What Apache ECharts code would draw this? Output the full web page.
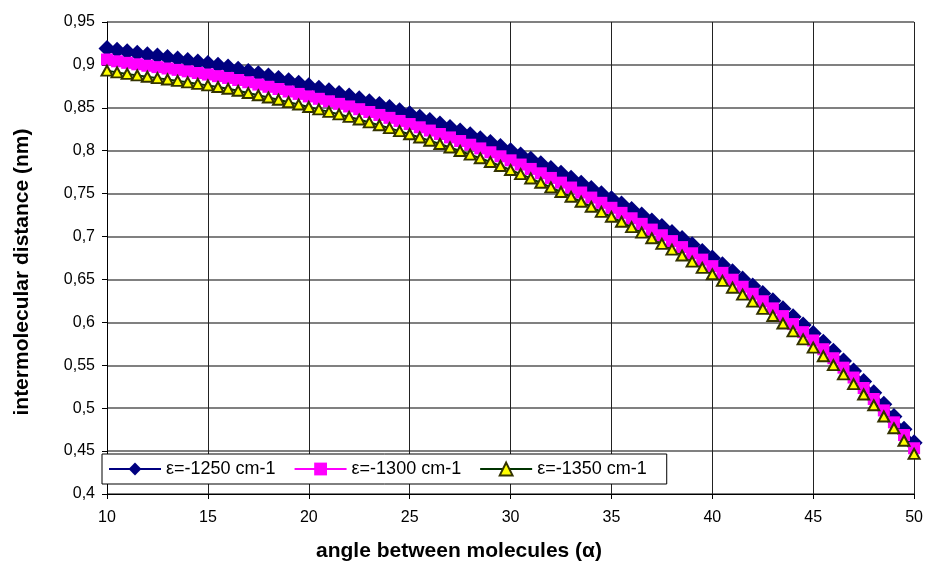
<!DOCTYPE html>
<html>
<head>
<meta charset="utf-8">
<script src="https://cdn.jsdelivr.net/npm/echarts@6/dist/echarts.min.js"></script>
<style>html,body{margin:0;padding:0;background:#fff;}#c{width:926px;height:563px;}</style>
</head>
<body>
<div id="c"></div>
<script>
var angles = [10,10.5,11,11.5,12,12.5,13,13.5,14,14.5,15,15.5,16,16.5,17,17.5,18,18.5,19,19.5,20,20.5,21,21.5,22,22.5,23,23.5,24,24.5,25,25.5,26,26.5,27,27.5,28,28.5,29,29.5,30,30.5,31,31.5,32,32.5,33,33.5,34,34.5,35,35.5,36,36.5,37,37.5,38,38.5,39,39.5,40,40.5,41,41.5,42,42.5,43,43.5,44,44.5,45,45.5,46,46.5,47,47.5,48,48.5,49,49.5,50];

var eps1250 = [0.9192,0.9171,0.9153,0.9135,0.9119,0.9103,0.9086,0.9070,0.9052,0.9034,0.9015,0.8996,0.8975,0.8950,0.8923,0.8897,0.8870,0.8843,0.8814,0.8786,0.8757,0.8728,0.8698,0.8668,0.8637,0.8606,0.8572,0.8538,0.8503,0.8467,0.8430,0.8391,0.8352,0.8312,0.8271,0.8229,0.8186,0.8141,0.8096,0.8049,0.8000,0.7951,0.7900,0.7847,0.7793,0.7737,0.7679,0.7621,0.7560,0.7498,0.7440,0.7380,0.7316,0.7250,0.7182,0.7116,0.7047,0.6976,0.6903,0.6827,0.6750,0.6671,0.6590,0.6506,0.6423,0.6336,0.6251,0.6160,0.6066,0.5970,0.5871,0.5769,0.5662,0.5550,0.5433,0.5310,0.5180,0.5045,0.4904,0.4754,0.4598];

var eps1300 = [0.9063,0.9042,0.9024,0.9007,0.8990,0.8974,0.8958,0.8942,0.8925,0.8906,0.8888,0.8869,0.8848,0.8824,0.8798,0.8771,0.8745,0.8719,0.8690,0.8662,0.8633,0.8605,0.8576,0.8546,0.8516,0.8484,0.8451,0.8417,0.8383,0.8347,0.8311,0.8273,0.8235,0.8195,0.8155,0.8113,0.8070,0.8027,0.7982,0.7935,0.7888,0.7839,0.7788,0.7737,0.7683,0.7628,0.7571,0.7513,0.7454,0.7393,0.7335,0.7276,0.7213,0.7148,0.7081,0.7015,0.6947,0.6877,0.6805,0.6731,0.6655,0.6577,0.6497,0.6415,0.6333,0.6246,0.6163,0.6073,0.5980,0.5886,0.5789,0.5687,0.5582,0.5472,0.5357,0.5235,0.5107,0.4974,0.4835,0.4687,0.4533];

var eps1350 = [0.8933,0.8913,0.8895,0.8878,0.8862,0.8846,0.8830,0.8814,0.8797,0.8779,0.8761,0.8742,0.8722,0.8698,0.8672,0.8646,0.8620,0.8594,0.8566,0.8538,0.8510,0.8482,0.8453,0.8424,0.8394,0.8363,0.8330,0.8297,0.8263,0.8228,0.8192,0.8155,0.8117,0.8078,0.8038,0.7997,0.7955,0.7912,0.7868,0.7822,0.7775,0.7727,0.7677,0.7626,0.7573,0.7519,0.7463,0.7406,0.7347,0.7287,0.7230,0.7172,0.7110,0.7046,0.6980,0.6915,0.6848,0.6779,0.6708,0.6635,0.6560,0.6483,0.6404,0.6323,0.6242,0.6157,0.6075,0.5986,0.5895,0.5802,0.5706,0.5606,0.5502,0.5394,0.5280,0.5160,0.5034,0.4903,0.4766,0.4620,0.4468];

var seriesNames = ['ε=-1250 cm-1','ε=-1300 cm-1','ε=-1350 cm-1'];
var xTitle = 'angle between molecules (α)';
var yTitle = 'intermolecular distance (nm)';

function pairs(ys){ return angles.map(function(a,i){ return [a, ys[i]]; }); }
var FONT = '"Liberation Sans", Arial, sans-serif';

var chart = echarts.init(document.getElementById('c'), null, {renderer:'canvas'});
chart.setOption({
  animation:false,
  backgroundColor:'#ffffff',
  grid:{left:107, right:11, top:22, bottom:69, containLabel:false},
  xAxis:{
    type:'value', min:10, max:50, interval:5,
    axisLine:{onZero:false, lineStyle:{color:'#000', width:1}},
    axisTick:{show:true, length:5, lineStyle:{color:'#000'}},
    axisLabel:{fontFamily:FONT, fontSize:16, color:'#000', margin:16},
    splitLine:{show:true, lineStyle:{color:'#222', width:1}}
  },
  yAxis:{
    type:'value', min:0.4, max:0.95, interval:0.05,
    axisLine:{show:true, onZero:false, lineStyle:{color:'#000', width:1}},
    axisTick:{show:true, length:5, lineStyle:{color:'#000'}},
    axisLabel:{fontFamily:FONT, fontSize:16, color:'#000', margin:12,
      formatter:function(v){ return String(+v.toFixed(2)).replace('.', ','); }},
    splitLine:{show:true, lineStyle:{color:'#808080', width:2}}
  },
  graphic:[
    {type:'text', x:459, y:551, z:10,
     style:{text:xTitle, fontFamily:FONT, fontSize:21, fontWeight:'bold', fill:'#000',
            textAlign:'center', textVerticalAlign:'middle'}},
    {type:'text', x:22, y:272, rotation:Math.PI/2, z:10,
     style:{text:yTitle, fontFamily:FONT, fontSize:21, fontWeight:'bold', fill:'#000',
            textAlign:'center', textVerticalAlign:'middle'}}
  ],
  legend:{
    left:102, top:454,
    orient:'horizontal',
    backgroundColor:'#ffffff', borderColor:'#000', borderWidth:1,
    padding:[6,20,6,6],
    itemWidth:52, itemHeight:16, itemGap:18,
    textStyle:{fontFamily:FONT, fontSize:18, color:'#000'},
    data:seriesNames
  },
  series:[
    {name:seriesNames[0], type:'line', data:pairs(eps1250),
     symbol:'diamond', symbolSize:[17,17], showAllSymbol:true,
     lineStyle:{color:'#000080', width:2},
     itemStyle:{color:'#000080'}},
    {name:seriesNames[1], type:'line', data:pairs(eps1300),
     symbol:'rect', symbolSize:12, showAllSymbol:true,
     lineStyle:{color:'#ff00ff', width:2},
     itemStyle:{color:'#ff00ff'}},
    {name:seriesNames[2], type:'line', data:pairs(eps1350),
     symbol:'triangle', symbolSize:[11,10], showAllSymbol:true,
     lineStyle:{color:'#003300', width:2},
     itemStyle:{color:'#ffff00', borderColor:'#333300', borderWidth:2}}
  ]
});
</script>
</body>
</html>
